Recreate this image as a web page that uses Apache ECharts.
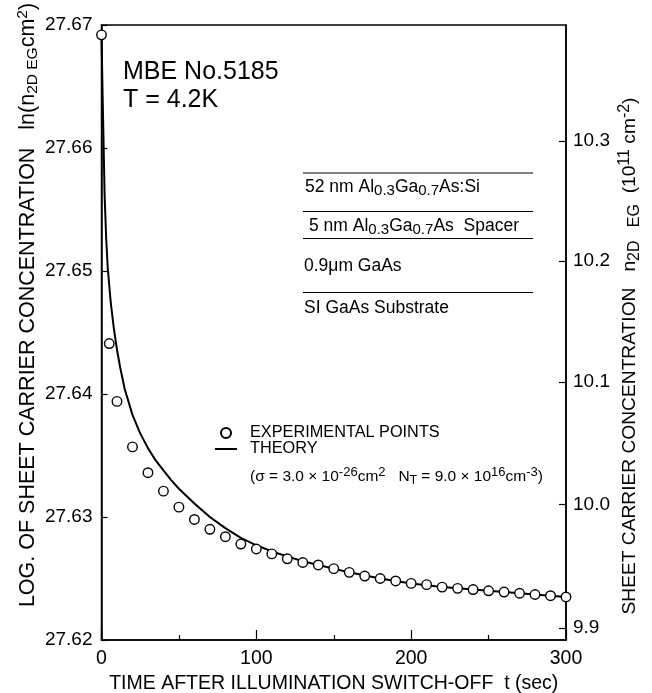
<!DOCTYPE html>
<html>
<head>
<meta charset="utf-8">
<script src="https://cdn.jsdelivr.net/npm/echarts@6/dist/echarts.min.js"></script>
<style>
    html, body { margin: 0; padding: 0; background: #fff; }
    #main { width: 652px; height: 693px; }
</style>
</head>
<body>
<div id="main"></div>
<script>
// experimental points: t (sec) and ln(n2DEG cm^2)
var expTime = [0, 5, 10, 20, 30, 40, 50, 60, 70, 80, 90, 100, 110, 120, 130, 140, 150,
    160, 170, 180, 190, 200, 210, 220, 230, 240, 250, 260, 270, 280, 290, 300];
var expLnN = [27.6692, 27.6441, 27.6394, 27.6357, 27.6336, 27.6321, 27.6308, 27.6298,
    27.6290, 27.6284, 27.6278, 27.6274, 27.6270, 27.6266, 27.6263, 27.6261, 27.6258,
    27.6255, 27.6252, 27.6250, 27.6248, 27.6246, 27.6245, 27.6243, 27.6242, 27.6241,
    27.6240, 27.6239, 27.6238, 27.6237, 27.6236, 27.6235];

// theory curve
var theoryTime = [0, 1, 2, 3, 4, 6, 8, 10, 12, 15, 20, 25, 30, 35, 40, 45, 50, 60, 70, 80, 90,
    100, 110, 120, 130, 140, 160, 180, 200, 220, 240, 260, 280, 300];
var theoryLnN = [27.6690, 27.6625, 27.6562, 27.6527, 27.6503, 27.6474, 27.6453, 27.6436,
    27.6422, 27.6404, 27.6383, 27.6368, 27.6356, 27.6346, 27.6338, 27.6330, 27.6323,
    27.6311, 27.6300, 27.6291, 27.6283, 27.6277, 27.6272, 27.6268, 27.6264, 27.6261,
    27.6255, 27.6250, 27.6246, 27.6243, 27.6241, 27.6239, 27.6237, 27.6235];

// right axis: n2DEG in 1e11 cm^-2
var rightTickLabels = [9.9, 10.0, 10.1, 10.2, 10.3];

var FONT = 'Liberation Sans';

var myChart = echarts.init(document.getElementById('main'));

var expData = [];
for (var i = 0; i < expTime.length; i++) {
    expData.push([expTime[i], expLnN[i]]);
}
var theoryData = [];
for (var j = 0; j < theoryTime.length; j++) {
    theoryData.push([theoryTime[j], theoryLnN[j]]);
}
// position of right ticks on the ln scale
var rightTickVals = rightTickLabels.map(function (v) {
    return Math.log(v * 1e11);
});

var option = {
    animation: false,
    backgroundColor: '#fff',
    grid: {
        left: 101.5,
        right: 86,
        top: 25,
        bottom: 53,
        outerBoundsMode: 'none',
        show: true,
        borderColor: '#000',
        borderWidth: 1.5
    },
    legend: {
        orient: 'vertical',
        left: 210,
        top: 420,
        itemWidth: 22,
        itemHeight: 10,
        itemGap: 0,
        selectedMode: false,
        textStyle: {
            fontFamily: FONT,
            fontSize: 16.3,
            color: '#000',
            lineHeight: 14,
            padding: [0, 0, 0, 8]
        },
        data: [
            { name: 'EXPERIMENTAL POINTS', icon: 'circle' },
            { name: 'THEORY', icon: 'path://M0,0 L22,0 L22,2 L0,2 Z', itemStyle: { color: '#000' } }
        ]
    },
    xAxis: {
        type: 'value',
        min: 0,
        max: 300,
        interval: 100,
        name: 'TIME AFTER ILLUMINATION SWITCH-OFF  t (sec)',
        nameLocation: 'middle',
        nameGap: 31,
        nameTextStyle: { fontFamily: FONT, fontSize: 19.5, color: '#000' },
        axisLine: { lineStyle: { color: '#000', width: 1.5 } },
        axisTick: { inside: true, length: 10, lineStyle: { color: '#000', width: 1.2 } },
        minorTick: { show: true, splitNumber: 2, length: 5, lineStyle: { color: '#000', width: 1.2 } },
        axisLabel: { fontFamily: FONT, fontSize: 19.5, color: '#000', margin: 9 },
        splitLine: { show: false }
    },
    yAxis: [
        {
            type: 'value',
            position: 'left',
            min: 27.62,
            max: 27.67,
            interval: 0.01,
            axisLine: { show: true, lineStyle: { color: '#000', width: 1.5 } },
            axisTick: { show: true, inside: true, length: 6, lineStyle: { color: '#000', width: 1.2 } },
            axisLabel: {
                fontFamily: FONT, fontSize: 19, color: '#000', margin: 9,
                formatter: function (v) { return v.toFixed(2); }
            },
            splitLine: { show: false }
        },
        {
            type: 'value',
            position: 'right',
            min: 27.62,
            max: 27.67,
            axisLine: { show: true, lineStyle: { color: '#000', width: 1.5 } },
            axisTick: {
                show: true, inside: true, length: 7,
                customValues: rightTickVals,
                lineStyle: { color: '#000', width: 1.2 }
            },
            axisLabel: {
                fontFamily: FONT, fontSize: 19, color: '#000', margin: 7,
                customValues: rightTickVals,
                formatter: function (v) { return (Math.exp(v) / 1e11).toFixed(1); }
            },
            splitLine: { show: false }
        }
    ],
    graphic: [
        {
            type: 'text', x: 123, y: 72,
            style: { text: 'MBE No.5185', fontFamily: FONT, fontSize: 25, fill: '#000', verticalAlign: 'middle' }
        },
        {
            type: 'text', x: 123, y: 100,
            style: { text: 'T = 4.2K', fontFamily: FONT, fontSize: 25, fill: '#000', verticalAlign: 'middle' }
        },
        // layer stack inset
        { type: 'line', shape: { x1: 303, y1: 173, x2: 533, y2: 173 }, style: { stroke: '#000', lineWidth: 1.2 } },
        { type: 'line', shape: { x1: 303, y1: 211.5, x2: 533, y2: 211.5 }, style: { stroke: '#000', lineWidth: 1.2 } },
        { type: 'line', shape: { x1: 303, y1: 238.5, x2: 533, y2: 238.5 }, style: { stroke: '#000', lineWidth: 1.2 } },
        { type: 'line', shape: { x1: 303, y1: 292.5, x2: 533, y2: 292.5 }, style: { stroke: '#000', lineWidth: 1.2 } },
        {
            type: 'text', x: 305, y: 187,
            style: {
                text: '{n|52 nm Al}{s|0.3}{n|Ga}{s|0.7}{n|As:Si}',
                fill: '#000', verticalAlign: 'middle',
                rich: { n: { fontSize: 17.5, fontFamily: FONT }, s: { fontSize: 15, fontFamily: FONT, padding: [7, 0, 0, 0] } }
            }
        },
        {
            type: 'text', x: 309, y: 226,
            style: {
                text: '{n|5 nm Al}{s|0.3}{n|Ga}{s|0.7}{n|As  Spacer}',
                fill: '#000', verticalAlign: 'middle',
                rich: { n: { fontSize: 17.5, fontFamily: FONT }, s: { fontSize: 15, fontFamily: FONT, padding: [7, 0, 0, 0] } }
            }
        },
        {
            type: 'text', x: 304, y: 266,
            style: { text: '0.9μm GaAs', fontFamily: FONT, fontSize: 17.5, fill: '#000', verticalAlign: 'middle' }
        },
        {
            type: 'text', x: 304, y: 308,
            style: { text: 'SI GaAs Substrate', fontFamily: FONT, fontSize: 17.5, fill: '#000', verticalAlign: 'middle' }
        },
        // legend parameters
        {
            type: 'text', x: 250, y: 477,
            style: {
                text: '{n|(σ = 3.0 × 10}{p|-26}{n|cm}{p|2}{n|   N}{s|T}{n| = 9.0 × 10}{p|16}{n|cm}{p|-3}{n|)}',
                fill: '#000', verticalAlign: 'middle',
                rich: {
                    n: { fontSize: 15.5, fontFamily: FONT },
                    p: { fontSize: 13, fontFamily: FONT, padding: [0, 0, 9, 0] },
                    s: { fontSize: 12, fontFamily: FONT, padding: [7, 0, 0, 0] }
                }
            }
        },
        // left axis title
        {
            type: 'text', x: 28, y: 305, rotation: Math.PI / 2,
            style: {
                text: '{n|LOG. OF SHEET CARRIER CONCENTRATION   ln(n}{s|2D EG}{n|cm}{p|2}{n|)}',
                fill: '#000', align: 'center', verticalAlign: 'middle',
                rich: {
                    n: { fontSize: 21.5, fontFamily: FONT },
                    s: { fontSize: 15.5, fontFamily: FONT, padding: [10, 0, 0, 0] },
                    p: { fontSize: 15.5, fontFamily: FONT, padding: [0, 0, 11, 0] }
                }
            }
        },
        // right axis title
        {
            type: 'text', x: 630, y: 356, rotation: Math.PI / 2,
            style: {
                text: '{n|SHEET CARRIER CONCENTRATION   n}{s|2D   EG}{n|  (10}{p|11}{n| cm}{p|-2}{n|)}',
                fill: '#000', align: 'center', verticalAlign: 'middle',
                rich: {
                    n: { fontSize: 19.2, fontFamily: FONT },
                    s: { fontSize: 16, fontFamily: FONT, padding: [10, 0, 0, 0] },
                    p: { fontSize: 16, fontFamily: FONT, padding: [0, 0, 11, 0] }
                }
            }
        }
    ],
    series: [
        {
            name: 'THEORY',
            type: 'line',
            data: theoryData,
            symbol: 'none',
            z: 2,
            lineStyle: { color: '#000', width: 2 },
            itemStyle: { color: '#000' }
        },
        {
            name: 'EXPERIMENTAL POINTS',
            type: 'scatter',
            data: expData,
            symbol: 'circle',
            symbolSize: 9.5,
            z: 3,
            itemStyle: { color: '#fff', borderColor: '#000', borderWidth: 1.4, opacity: 1 }
        }
    ]
};
myChart.setOption(option);
</script>
</body>
</html>
